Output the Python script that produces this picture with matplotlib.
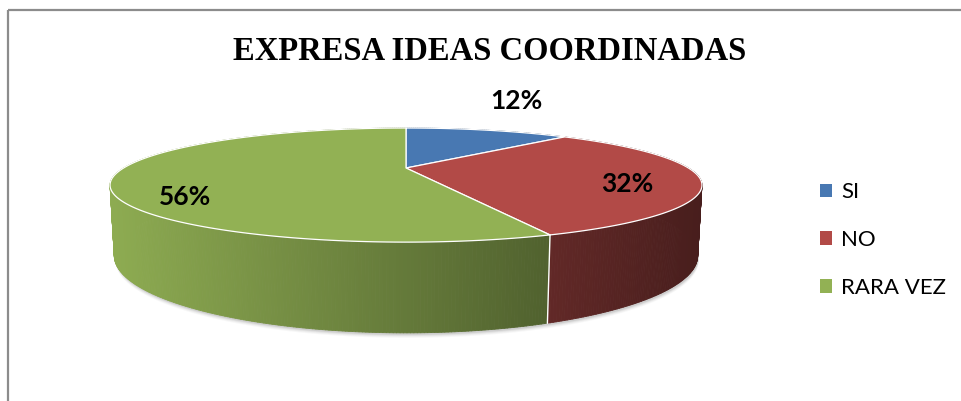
import numpy as np
import matplotlib.pyplot as plt
from matplotlib.collections import PolyCollection
from matplotlib.patches import Polygon, Patch

title = "EXPRESA IDEAS COORDINADAS"
categories = ["SI", "NO", "RARA VEZ"]
values = [12, 32, 56]
colors = ["#4878b2", "#b24a47", "#92b154"]

W, H = 961, 401
fig = plt.figure(figsize=(W / 100, H / 100), dpi=100)
ax = fig.add_axes([0, 0, 1, 1])
ax.set_xlim(0, W)
ax.set_ylim(H, 0)
ax.axis("off")

# simple perspective camera for the 3-d pie (angle 0 = back, clockwise)
cx, cy = 406, 168
f, D = 928.0, 3.286
tilt = np.radians(10.6)
thick = 0.237


def proj(theta, r=1.0, lift=0.0):
    X = r * np.sin(theta)
    Z = r * np.cos(theta)
    yv = lift * np.cos(tilt) + Z * np.sin(tilt)
    depth = D + Z * np.cos(tilt) - lift * np.sin(tilt)
    return cx + f * X / depth, cy - f * yv / depth


def shade(x):
    return np.clip(0.97 - 0.42 * (x - 110) / 440, 0.38, 1.0)


total = sum(values)
bounds = np.concatenate([[0], np.cumsum(values)]) / total * 2 * np.pi

# soft shadow under the pie
tt = np.linspace(0, 2 * np.pi, 400)
bx, by = proj(tt, lift=-thick)
for k, a in [(5, 0.06), (4, 0.08), (3, 0.12), (2, 0.18)]:
    ax.add_patch(Polygon(np.column_stack([bx + 1, by + k]), closed=True,
                         facecolor="#808080", edgecolor="none", alpha=a))

# side walls, drawn back to front with a left-to-right gradient
strips, fills, keys = [], [], []
for i in range(len(values)):
    base = np.array(plt.matplotlib.colors.to_rgb(colors[i]))
    ts = np.linspace(bounds[i], bounds[i + 1], int(np.degrees(bounds[i + 1] - bounds[i]) * 2) + 2)
    for a, b in zip(ts[:-1], ts[1:]):
        x1, y1 = proj(a)
        x2, y2 = proj(b)
        x3, y3 = proj(b, lift=-thick)
        x4, y4 = proj(a, lift=-thick)
        strips.append([(x1, y1), (x2, y2), (x3, y3), (x4, y4)])
        fills.append(base * shade((x1 + x2) / 2))
        keys.append(np.cos((a + b) / 2))
order = np.argsort(keys)[::-1]
ax.add_collection(PolyCollection([strips[j] for j in order],
                                 facecolors=[fills[j] for j in order],
                                 edgecolors=[fills[j] for j in order], linewidths=0.6))

# white seams on the visible part of the wall
for b in bounds[1:-1]:
    if np.cos(b) < -0.3:
        xs, ys = proj(np.array([b, b]), lift=np.array([0, -thick]))
        ax.plot(xs, ys, color="white", lw=1.0)

# top faces
for i in range(len(values)):
    ts = np.linspace(bounds[i], bounds[i + 1], 200)
    x, y = proj(ts)
    pts = np.column_stack([np.r_[cx, x], np.r_[cy, y]])
    ax.add_patch(Polygon(pts, closed=True, facecolor=colors[i],
                         edgecolor="white", lw=0.9, joinstyle="round"))

# data labels
label_r = [1.5, 0.765, 0.765]
label_lift = [0.08, -0.03, -0.075]
for i, v in enumerate(values):
    mid = (bounds[i] + bounds[i + 1]) / 2
    lx, ly = proj(mid, r=label_r[i], lift=label_lift[i])
    ax.text(lx, ly, f"{v / total * 100:.0f}%", ha="center", va="center",
            fontsize=19, fontweight="bold", family="Lato", color="black")

ax.text(490, 52, title, ha="center", va="center", fontsize=23.5,
        fontweight="bold", family="Liberation Serif")

# legend
handles = [Patch(facecolor=c, edgecolor="none") for c in colors]
ax.legend(handles, categories, loc="center left", bbox_to_anchor=(809, 240),
          bbox_transform=ax.transData, frameon=False,
          prop={"family": "Lato", "size": 16},
          handlelength=0.55, handleheight=0.55, handletextpad=0.4,
          labelspacing=1.25, borderpad=0)

# chart-area frame (only top and left edges are inside the crop)
ax.plot([8, W], [10, 10], color="#8c8c8c", lw=1.6, solid_capstyle="butt")
ax.plot([8, 8], [10, H], color="#8c8c8c", lw=1.6, solid_capstyle="butt")

fig.savefig("out.png", dpi=100)
